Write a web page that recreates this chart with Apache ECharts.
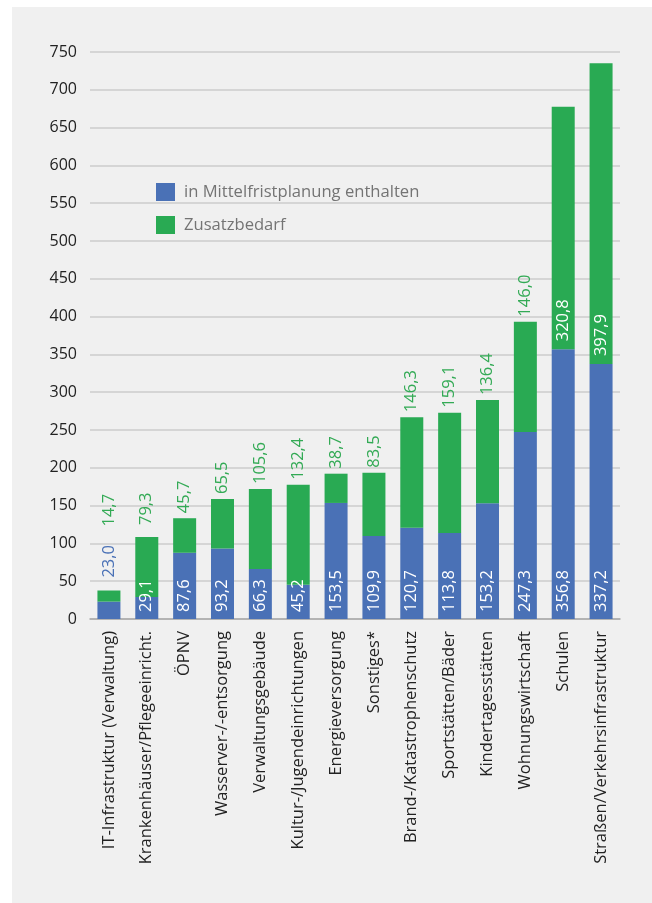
<!DOCTYPE html>
<html><head><meta charset="utf-8">
<script src="https://cdn.jsdelivr.net/npm/echarts@6/dist/echarts.min.js"></script>
<style>html,body{margin:0;padding:0;background:#fff}#c{width:652px;height:903px}</style>
</head><body><div id="c"></div>
<script>
const categories = ["IT-Infrastruktur (Verwaltung)","Krankenhäuser/Pflegeeinricht.","ÖPNV","Wasserver-/-entsorgung","Verwaltungsgebäude","Kultur-/Jugendeinrichtungen","Energieversorgung","Sonstiges*","Brand-/Katastrophenschutz","Sportstätten/Bäder","Kindertagesstätten","Wohnungswirtschaft","Schulen","Straßen/Verkehrsinfrastruktur"];
const planned = [23.0,29.1,87.6,93.2,66.3,45.2,153.5,109.9,120.7,113.8,153.2,247.3,356.8,337.2];
const additional = [14.7,79.3,45.7,65.5,105.6,132.4,38.7,83.5,146.3,159.1,136.4,146.0,320.8,397.9];
const yTicks = [0,50,100,150,200,250,300,350,400,450,500,550,600,650,700,750];
const seriesNames = ["in Mittelfristplanung enthalten","Zusatzbedarf"];

const BLUE = '#4a71b6', GREEN = '#29aa53';
const fmt = v => v.toFixed(1).replace('.', ',');
const FONT = 'Open Sans';

const blueData = planned.map((v,i) => {
  if (i === 0) return {value: v, label: {position: 'top', distance: 24, color: BLUE}};
  return v;
});
const greenData = additional.map((v,i) => {
  if (i === 0) return {value: v, label: {distance: 64}};
  if (i === 1) return {value: v, label: {distance: 12}};
  if (i >= 12) return {value: v, label: {position: 'insideBottom', distance: 8, color: '#fff'}};
  return v;
});

const chart = echarts.init(document.getElementById('c'), null, {renderer: 'canvas'});
chart.setOption({
  backgroundColor: '#ffffff',
  animation: false,
  graphic: [{type: 'rect', z: -10, silent: true, shape: {x: 12, y: 7, width: 640, height: 896}, style: {fill: '#f0f0f0'}}],
  legend: {
    orient: 'vertical', left: 151, top: 178, itemWidth: 19, itemHeight: 18, itemGap: 15,
    icon: 'rect',
    textStyle: {fontFamily: FONT, fontSize: 16.6, color: '#747474', padding: [0,0,0,4]},
    data: seriesNames
  },
  grid: {left: 90, right: 32, top: 52, bottom: 284, containLabel: false},
  xAxis: {
    type: 'category', data: categories,
    axisLine: {lineStyle: {color: '#a8a8a8', width: 1.5}},
    axisTick: {show: false},
    axisLabel: {rotate: 90, interval: 0, margin: 12, fontFamily: FONT, fontSize: 16.5, color: '#222'}
  },
  yAxis: {
    type: 'value', min: 0, max: 750, interval: 50,
    axisLine: {show: false}, axisTick: {show: false},
    splitLine: {lineStyle: {color: '#cccccc', width: 1.5}},
    axisLabel: {margin: 13, fontFamily: FONT, fontSize: 16, color: '#222',
      formatter: v => yTicks.includes(v) ? String(v) : ''}
  },
  series: [
    {name: seriesNames[0], type: 'bar', stack: 's', barWidth: 23, data: blueData,
     itemStyle: {color: BLUE},
     label: {show: true, position: 'insideBottom', rotate: 90, align: 'left', verticalAlign: 'middle',
       distance: 7, color: '#fff', fontFamily: FONT, fontSize: 16.5, formatter: p => fmt(p.value)}},
    {name: seriesNames[1], type: 'bar', stack: 's', barWidth: 23, data: greenData,
     itemStyle: {color: GREEN},
     label: {show: true, position: 'top', rotate: 90, align: 'left', verticalAlign: 'middle',
       distance: 5, color: '#33aa55', fontFamily: FONT, fontSize: 16.5, formatter: p => fmt(p.value)}}
  ]
});
</script></body></html>
